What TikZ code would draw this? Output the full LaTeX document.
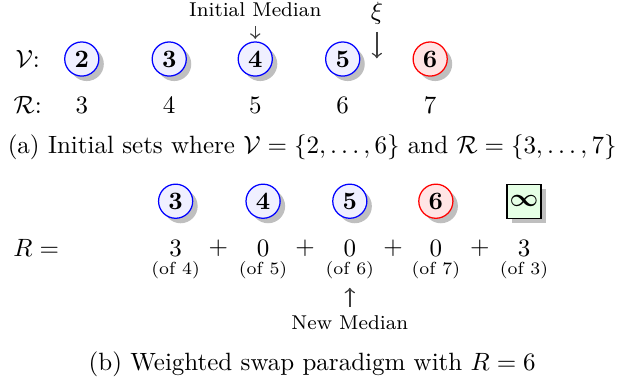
\documentclass[tikz,border=0pt]{standalone}
\usepackage{amsmath,amsfonts,amssymb}
\usepackage{xcolor}
\usepackage{tikz}
\usetikzlibrary{calc, shadows}

\begin{document}
\begin{tikzpicture}
   \tikzstyle{vb}=[circle, draw=blue, fill=blue!6, line width=.5pt, minimum size=.48cm, inner sep=0pt, font=\bfseries,
     drop shadow={shadow xshift=.07cm, shadow yshift=-.07cm, fill=black!25, opacity=1}]
   \tikzstyle{vr}=[vb, draw=red, fill=red!10]
   \tikzstyle{vg}=[rectangle, draw=black, fill=green!10, line width=.5pt, minimum size=.48cm, inner sep=0pt,
     drop shadow={shadow xshift=.07cm, shadow yshift=-.07cm, fill=black!25, opacity=1}]
   \tikzstyle{of}=[font=\scriptsize]
   \tikzstyle{pt}=[->, semithick, black!75]
   \useasboundingbox (0,0) rectangle (8.79,5.36);
   %% top row
\node (V) at (.39,4.53) {$\mathcal{V}$:};
\node (Rc) at (.39,3.88) {$\mathcal{R}$:};
\node (a2) at (1.15,4.53) [vb] {2};
\node (a3) at (2.38,4.53) [vb] {3};
\node (a4) at (3.59,4.53) [vb] {4};
\node (a5) at (4.82,4.53) [vb] {5};
\node (a6) at (6.05,4.53) [vr] {6};
\node (r3) at (1.15,3.88) {3};
\node (r4) at (2.38,3.88) {4};
\node (r5) at (3.59,3.88) {5};
\node (r6) at (4.82,3.88) {6};
\node (r7) at (6.05,3.88) {7};
\node (im) at (3.59,5.22) {\footnotesize Initial Median};
\node (xi) at (5.30,5.18) [inner sep=1pt] {$\xi$};
\coordinate (xe) at (5.30,4.54);
 \draw[pt, shorten >=1pt] (im) -- (a4);
 \draw[pt, shorten <=2pt] (xi) -- (xe);
\node (capa) at (4.39,3.29) {(a) Initial sets where $\mathcal{V}=\{2,\dots,6\}$ and $\mathcal{R}=\{3,\dots,7\}$};
   %% bottom row
\node (b3) at (2.47,2.53) [vb] {3};
\node (b4) at (3.70,2.53) [vb] {4};
\node (b5) at (4.92,2.53) [vb] {5};
\node (b6) at (6.13,2.53) [vr] {6};
\node (binf) at (7.37,2.53) [vg] {$\boldsymbol{\infty}$};
\node (R) at (.51,1.87) {$R=$};
\node (w3) at (2.47,1.87) {3};
\node (p1) at (3.07,1.87) {$+$};
\node (w4) at (3.70,1.87) {0};
\node (p2) at (4.29,1.87) {$+$};
\node (w5) at (4.92,1.87) {0};
\node (p3) at (5.53,1.87) {$+$};
\node (w6) at (6.13,1.87) {0};
\node (p4) at (6.75,1.87) {$+$};
\node (winf) at (7.37,1.87) {3};
\node (o4) at (2.47,1.56) [of] {(of 4)};
\node (o5) at (3.70,1.56) [of] {(of 5)};
\node (o6) at (4.92,1.56) [of] {(of 6)};
\node (o7) at (6.13,1.56) [of] {(of 7)};
\node (o3) at (7.37,1.56) [of] {(of 3)};
\node (nm) at (4.92,.82) {\footnotesize New Median};
 \draw[pt] (nm) -- (o6);
\node (capb) at (4.39,.24) {(b) Weighted swap paradigm with $R=6$};
\end{tikzpicture}
\end{document}
